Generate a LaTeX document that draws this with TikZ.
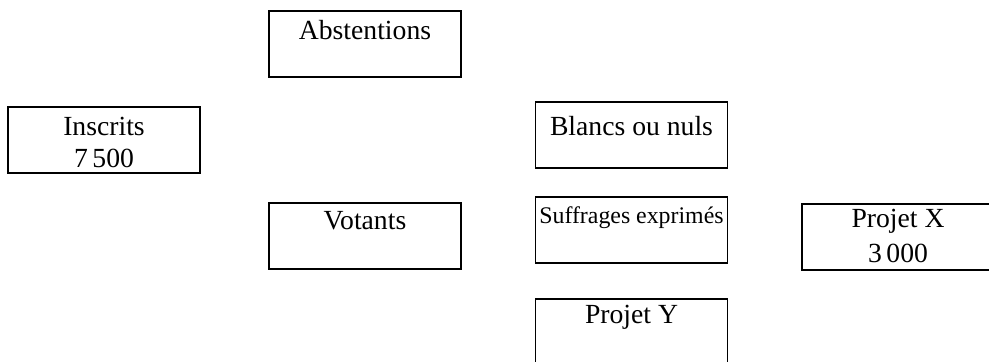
\documentclass[tikz,border=0pt]{standalone}
\usepackage{fontspec}
\setmainfont{Liberation Serif}
\usetikzlibrary{positioning}

\begin{document}
\begin{tikzpicture}[
  font=\fontsize{12.3}{14.2}\selectfont,
  boite/.style 2 args={draw,thick,anchor=north,minimum width=3cm,inner xsep=0pt,inner ysep=0pt,align=center,text height=#1,text depth=#2}
]
\useasboundingbox (0,0) rectangle (15.453,5.656);
\node[boite={0.44cm}{0.59cm}] (abst) at (5.703,5.5) {Abstentions};
\node[boite={0.95cm}{0.08cm}] (insc) at (1.625,4.0) {Inscrits\\7\,500};
\node[boite={0.53cm}{0.50cm}] (blancs) at (9.867,4.078) {Blancs ou nuls};
\node[boite={0.42cm}{0.61cm}] (votants) at (5.703,2.5) {Votants};
\node[boite={0.41cm}{0.62cm}] (exprimes) at (9.867,2.594) {\fontsize{10.6}{12}\selectfont Suffrages exprimés};
\node[boite={0.92cm}{0.11cm}] (projX) at (14.031,2.484) {Projet X\\[1.3pt]3\,000};
\node[boite={0.39cm}{0.64cm}] (projY) at (9.867,1.0) {Projet Y};
\end{tikzpicture}
\end{document}
